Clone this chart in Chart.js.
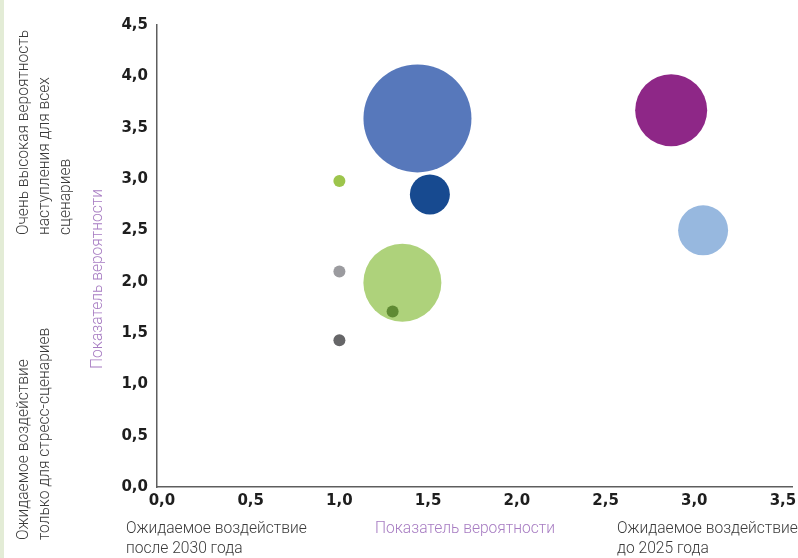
<!DOCTYPE html>
<html>
<head>
<meta charset="utf-8">
<script src="https://cdn.jsdelivr.net/npm/chart.js@4.4.1/dist/chart.umd.min.js"></script>
<style>
  html, body { margin: 0; padding: 0; background: #ffffff; }
  body { width: 798px; height: 558px; overflow: hidden; position: relative; }
  .edge { position: absolute; left: 0; top: 0; width: 4px; height: 558px; background: #e3ecd6; }
  #wrap { position: absolute; left: 0; top: 0; width: 798px; height: 558px; }
</style>
</head>
<body>
<div class="edge"></div>
<div id="wrap"><canvas id="chart" width="798" height="558"></canvas></div>
<script>
// Risk map: expected impact horizon (x) vs. probability score (y); bubble size = significance
const impactX      = [1.44, 1.51, 1.00, 1.00, 1.355, 1.30, 1.00, 2.87, 3.05];
const probabilityY = [3.59, 2.85, 2.98, 2.10, 1.99, 1.71, 1.43, 3.67, 2.50];
const significance = [54, 20, 6, 6, 39, 6, 6, 36, 25];

const xTickValues = [0, 0.5, 1, 1.5, 2, 2.5, 3, 3.5];
const yTickValues = [0, 0.5, 1, 1.5, 2, 2.5, 3, 3.5, 4, 4.5];

const topLeftNote    = ['Очень высокая вероятность', 'наступления для всех', 'сценариев'];
const bottomLeftNote = ['Ожидаемое воздействие', 'только для стресс-сценариев'];
const lateNote       = ['Ожидаемое воздействие', 'после 2030 года'];
const earlyNote      = ['Ожидаемое воздействие', 'до 2025 года'];
const axisName       = 'Показатель вероятности';

const palette = ['#5778bb', '#174a90', '#9dc54c', '#9b9b9f', '#aed27b', '#5f8a33', '#666668', '#8e2787', '#97b8df'];

const NOTE_FONT = '300 15.6px Roboto';
const NOTE_COLOR = '#3a3a3a';
const ACCENT = '#a77cc2';

function fmt(v) { return Number(v).toFixed(1).replace('.', ','); }

const notesPlugin = {
  id: 'notes',
  afterDraw(chart) {
    const c = chart.ctx;
    c.save();
    c.font = NOTE_FONT;
    c.textBaseline = 'middle';
    c.textAlign = 'left';

    // horizontal captions under the x axis
    c.fillStyle = NOTE_COLOR;
    lateNote.forEach((t, i) => c.fillText(t, 126, 529 + i * 20));
    earlyNote.forEach((t, i) => c.fillText(t, 617, 529 + i * 20));
    c.fillStyle = ACCENT;
    c.fillText(axisName, 375, 529);

    // rotated captions on the left
    const rotated = (text, x, y, align, color) => {
      c.save();
      c.translate(x, y);
      c.rotate(-Math.PI / 2);
      c.textAlign = align;
      c.fillStyle = color;
      c.fillText(text, 0, 0);
      c.restore();
    };
    topLeftNote.forEach((t, i) => rotated(t, 24 + i * 21, 235, 'left', NOTE_COLOR));
    bottomLeftNote.forEach((t, i) => rotated(t, 24 + i * 21, 540, 'left', NOTE_COLOR));
    rotated(axisName, 98, 279, 'center', ACCENT);
    c.restore();
  }
};

const tickFont = { family: 'DejaVu Sans', size: 15, weight: 'bold' };

new Chart(document.getElementById('chart'), {
  type: 'bubble',
  data: {
    datasets: [{
      data: impactX.map((x, i) => ({ x: x, y: probabilityY[i], r: significance[i] })),
      backgroundColor: palette,
      borderWidth: 0,
      hoverBorderWidth: 0
    }]
  },
  options: {
    responsive: false,
    animation: false,
    events: [],
    layout: { autoPadding: false, padding: { top: 25, right: 6, left: 0, bottom: 0 } },
    plugins: { legend: { display: false }, tooltip: { enabled: false } },
    scales: {
      x: {
        type: 'linear',
        min: -0.028,
        max: 3.551,
        grid: { display: false, drawTicks: false },
        border: { display: true, color: '#5e5e5e', width: 1.5 },
        afterBuildTicks(scale) { scale.ticks = xTickValues.map(v => ({ value: v })); },
        afterFit(scale) { scale.height = 71; scale.paddingLeft = 0; scale.paddingRight = 0; },
        ticks: { color: '#1e1e1e', font: tickFont, padding: 5, maxRotation: 0, autoSkip: false, callback: fmt }
      },
      y: {
        type: 'linear',
        min: 0,
        max: 4.5,
        grid: { display: false, drawTicks: false },
        border: { display: true, color: '#5e5e5e', width: 1.5 },
        afterBuildTicks(scale) { scale.ticks = yTickValues.map(v => ({ value: v })); },
        afterFit(scale) { scale.width = 157; scale.paddingTop = 0; scale.paddingBottom = 0; },
        ticks: { color: '#1e1e1e', font: tickFont, padding: 9, autoSkip: false, callback: fmt }
      }
    }
  },
  plugins: [notesPlugin]
});
</script>
</body>
</html>
